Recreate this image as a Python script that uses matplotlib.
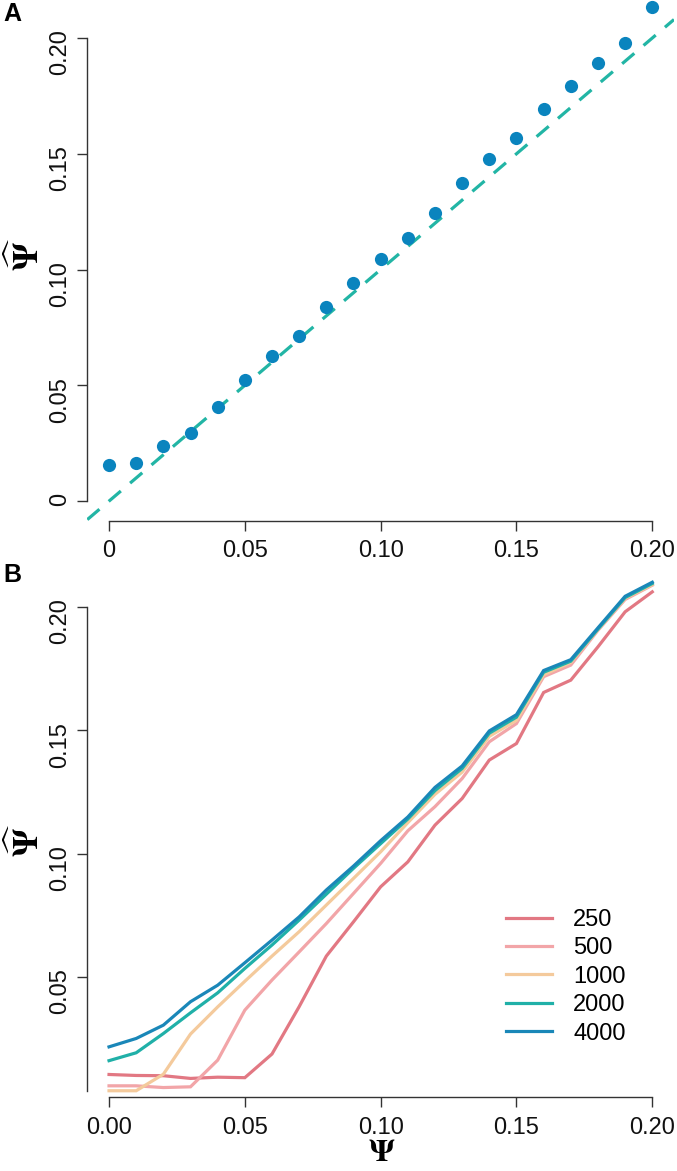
import matplotlib
matplotlib.use("Agg")
import matplotlib.pyplot as plt

plt.rcParams['font.family'] = ['Liberation Sans', 'DejaVu Sans']
plt.rcParams['mathtext.fontset'] = 'stix'

# true mixing proportion
psi = [0.00, 0.01, 0.02, 0.03, 0.04, 0.05, 0.06, 0.07, 0.08, 0.09, 0.10,
       0.11, 0.12, 0.13, 0.14, 0.15, 0.16, 0.17, 0.18, 0.19, 0.20]

# panel A: estimated psi
psi_hat = [0.0156, 0.0166, 0.0238, 0.0292, 0.0407, 0.0521, 0.0626, 0.0714,
           0.0839, 0.0940, 0.1044, 0.1138, 0.1243, 0.1375, 0.1476, 0.1568,
           0.1695, 0.1794, 0.1891, 0.1977, 0.2133]

# panel B: estimates by sample size
sizes = ['250', '500', '1000', '2000', '4000']
est_250 = [0.0104, 0.0100, 0.0099, 0.0088, 0.0093, 0.0091, 0.0187, 0.0379,
           0.0584, 0.0723, 0.0865, 0.0966, 0.1115, 0.1223, 0.1379, 0.1446,
           0.1653, 0.1703, 0.1838, 0.1980, 0.2061]
est_500 = [0.0058, 0.0058, 0.0051, 0.0054, 0.0162, 0.0365, 0.0487, 0.0601,
           0.0716, 0.0838, 0.0960, 0.1092, 0.1190, 0.1304, 0.1453, 0.1527,
           0.1717, 0.1764, 0.1905, 0.2030, 0.2088]
est_1000 = [0.0038, 0.0038, 0.0105, 0.0268, 0.0378, 0.0482, 0.0584, 0.0683,
            0.0791, 0.0899, 0.1007, 0.1125, 0.1240, 0.1330, 0.1475, 0.1540,
            0.1725, 0.1775, 0.1908, 0.2035, 0.2090]
est_2000 = [0.0160, 0.0192, 0.0270, 0.0354, 0.0435, 0.0534, 0.0629, 0.0730,
            0.0835, 0.0940, 0.1040, 0.1140, 0.1255, 0.1345, 0.1488, 0.1553,
            0.1735, 0.1780, 0.1910, 0.2038, 0.2095]
est_4000 = [0.0216, 0.0250, 0.0304, 0.0399, 0.0466, 0.0557, 0.0649, 0.0743,
            0.0852, 0.0949, 0.1052, 0.1148, 0.1268, 0.1355, 0.1497, 0.1563,
            0.1742, 0.1786, 0.1915, 0.2043, 0.2100]
line_colors = ['#E27883', '#F2A5A8', '#F4CA9C', '#20B0A8', '#1A87B8']

W, H = 677, 1171
fig = plt.figure(figsize=(W / 100, H / 100), dpi=100)

def px(x0, y0, x1, y1):
    # pixel box (top-left origin) -> figure fraction rect
    return [x0 / W, 1 - y1 / H, (x1 - x0) / W, (y1 - y0) / H]

axis_col = '#333333'
tick_fs = 17

def style(ax, ybounds, xlabels):
    for s in ['top', 'right']:
        ax.spines[s].set_visible(False)
    for s in ['left', 'bottom']:
        ax.spines[s].set_color(axis_col)
        ax.spines[s].set_linewidth(1)
    ax.spines['bottom'].set_bounds(0, 0.2)
    ax.spines['left'].set_bounds(*ybounds)
    ax.set_xticks([0, 0.05, 0.10, 0.15, 0.20])
    ax.set_xticklabels(xlabels)
    ax.tick_params(axis='both', length=7, width=1, color=axis_col,
                   labelsize=tick_fs, labelcolor='#111111')
    ax.tick_params(axis='x', pad=7)
    ax.tick_params(axis='y', pad=5, labelrotation=90)
    ax.set_xlim(-0.008, 0.208)

# ---- panel A
axA = fig.add_axes(px(87.3, 1, 674, 521))
axA.set_ylim(-0.0086, 0.216)
axA.axline((0, 0), slope=1, color='#22B5A5', lw=2.3, dashes=(5, 3.8))
axA.plot(psi, psi_hat, 'o', color='#0A84BE', ms=9.5, mec='none', clip_on=False)
axA.set_yticks([0, 0.05, 0.10, 0.15, 0.20])
axA.set_yticklabels(['0', '0.05', '0.10', '0.15', '0.20'])
style(axA, (0, 0.2), ['0', '0.05', '0.10', '0.15', '0.20'])

# ---- panel B
axB = fig.add_axes(px(87.3, 581, 674, 1091))
axB.set_ylim(0.0037, 0.2105)
for vals, lab, c in zip([est_250, est_500, est_1000, est_2000, est_4000],
                        sizes, line_colors):
    axB.plot(psi, vals, color=c, lw=2.3, label=lab, clip_on=False,
             solid_joinstyle='miter')
axB.set_yticks([0.05, 0.10, 0.15, 0.20])
axB.set_yticklabels(['0.05', '0.10', '0.15', '0.20'])
style(axB, (0.0037, 0.2), ['0.00', '0.05', '0.10', '0.15', '0.20'])
axB.spines['bottom'].set_position(('outward', 4.5))
axB.legend(loc='upper left', bbox_to_anchor=(506 / W, 1 - 909 / H),
           bbox_transform=fig.transFigure, frameon=False, fontsize=tick_fs,
           handlelength=1.95, handletextpad=0.9, labelspacing=0.27,
           borderaxespad=0, borderpad=0)

# axis labels
fig.text(26 / W, 1 - 254 / H, r'$\mathbf{\widehat{\Psi}}$', rotation=90,
         fontsize=25, ha='center', va='center')
fig.text(26 / W, 1 - 840 / H, r'$\mathbf{\widehat{\Psi}}$', rotation=90,
         fontsize=25, ha='center', va='center')
fig.text(382 / W, 1 - 1153 / H, r'$\mathbf{\Psi}$', fontsize=23,
         ha='center', va='center')

# panel letters
fig.text(3 / W, 1 - 14 / H, 'A', fontsize=18, fontweight='bold',
         ha='left', va='center')
fig.text(3 / W, 1 - 575 / H, 'B', fontsize=18, fontweight='bold',
         ha='left', va='center')

fig.savefig('out.png', dpi=100)
